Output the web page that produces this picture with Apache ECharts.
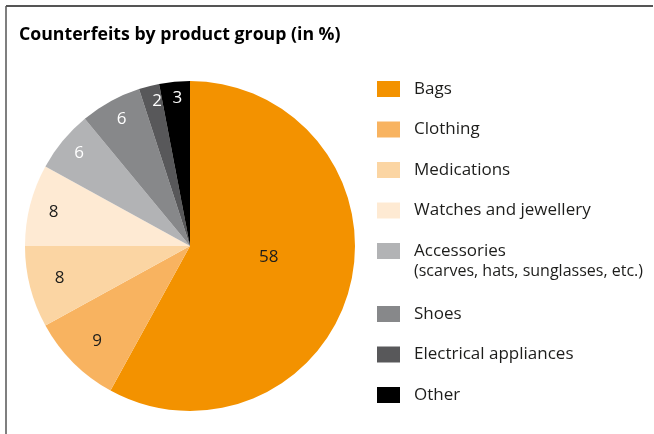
<!DOCTYPE html>
<html>
<head>
<meta charset="utf-8">
<script src="https://cdn.jsdelivr.net/npm/echarts@6/dist/echarts.min.js"></script>
<style>
  html, body { margin: 0; padding: 0; background: #fff; }
  #chart { width: 654px; height: 434px; }
</style>
</head>
<body>
<div id="chart"></div>
<script>
// product groups and their share (in %)
var categories = ["Bags", "Clothing", "Medications", "Watches and jewellery", "Accessories", "Shoes", "Electrical appliances", "Other"];
var shares = [58, 9, 8, 8, 6, 6, 2, 3];
var colors = ["#F39200", "#F8B360", "#FBD5A3", "#FEEAD3", "#B2B3B5", "#87888A", "#58585A", "#000000"];
var labelColors = ["#1d1d1b", "#1d1d1b", "#1d1d1b", "#1d1d1b", "#ffffff", "#ffffff", "#ffffff", "#ffffff"];
// small nudges so the numbers sit where the original put them
var labelOffsets = [[-4, -10], [9, -7], [9, -4], [3, 2], [0, -1], [1, -1], [3, -5], [1, -4]];
var accessoriesNote = "(scarves, hats, sunglasses, etc.)";

var font = "'Open Sans', 'Noto Sans', sans-serif";

var pieData = categories.map(function (name, i) {
  return {
    name: name,
    value: shares[i],
    itemStyle: { color: colors[i] },
    label: { show: i === 0, offset: labelOffsets[i] }
  };
});

// labels for the small slices sit near the rim
var outerLabelData = categories.map(function (name, i) {
  return {
    name: name,
    value: shares[i],
    label: { show: i > 0, color: labelColors[i], offset: labelOffsets[i] }
  };
});

var legendText = {
  fontFamily: font,
  fontSize: 17,
  color: "#1d1d1b",
  lineHeight: 20,
  padding: [0, 0, 0, 9]
};

var myChart = echarts.init(document.getElementById("chart"));
var option = {
  backgroundColor: "#fff",
  animation: false,
  title: {
    text: "Counterfeits by product group (in %)",
    left: 14,
    top: 21,
    textStyle: {
      fontFamily: font,
      fontSize: 17.7,
      fontWeight: "bold",
      color: "#000"
    }
  },
  legend: [
    {
      data: categories.slice(0, 5),
      orient: "vertical",
      left: 372,
      top: 74,
      itemWidth: 23,
      itemHeight: 16,
      itemGap: 20.5,
      icon: "rect",
      selectedMode: false,
      textStyle: legendText
    },
    {
      data: categories.slice(5),
      orient: "vertical",
      left: 372,
      top: 299,
      itemWidth: 23,
      itemHeight: 16,
      itemGap: 20.5,
      icon: "rect",
      selectedMode: false,
      textStyle: legendText
    }
  ],
  graphic: [
    // frame
    { type: "line", shape: { x1: 6, y1: 6, x2: 653, y2: 6 }, style: { stroke: "#555", lineWidth: 2 } },
    { type: "line", shape: { x1: 6, y1: 6, x2: 6, y2: 434 }, style: { stroke: "#555", lineWidth: 1.5 } },
    {
      type: "text",
      left: 414,
      top: 263,
      style: { text: accessoriesNote, fontFamily: font, fontSize: 16, fill: "#1d1d1b" }
    }
  ],
  series: [
    {
      type: "pie",
      center: [190, 246],
      radius: [0, 165],
      startAngle: 90,
      clockwise: true,
      silent: true,
      label: {
        position: "inside",
        formatter: "{c}",
        fontFamily: font,
        fontSize: 17,
        color: "#1d1d1b"
      },
      labelLine: { show: false },
      itemStyle: { borderWidth: 0 },
      data: pieData
    },
    {
      type: "pie",
      center: [190, 246],
      radius: [100, 182],
      startAngle: 90,
      clockwise: true,
      silent: true,
      itemStyle: { color: "transparent" },
      label: {
        position: "inside",
        formatter: "{c}",
        fontFamily: font,
        fontSize: 17
      },
      labelLine: { show: false },
      data: outerLabelData
    }
  ]
};
myChart.setOption(option);
window.addEventListener("resize", function () {
  myChart.resize();
});
</script>
</body>
</html>
